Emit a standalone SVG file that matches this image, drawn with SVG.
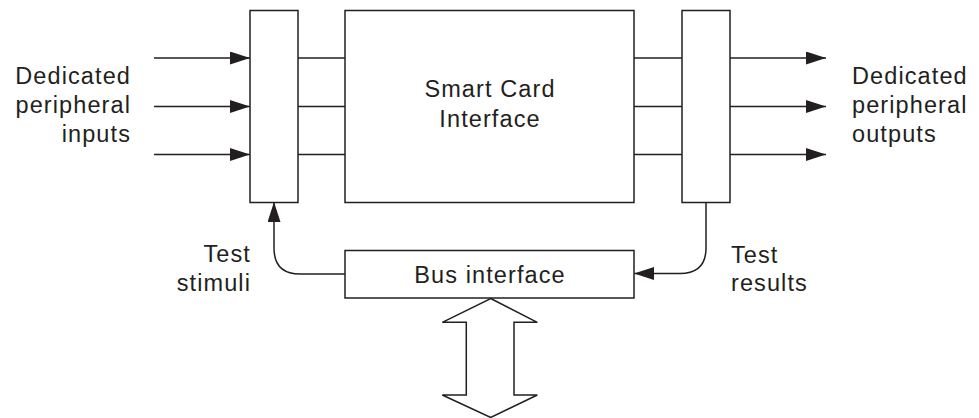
<svg xmlns="http://www.w3.org/2000/svg" width="979" height="418" viewBox="0 0 979 418">
  <style>
    .box { fill: #ffffff; stroke: #231f20; stroke-width: 1.5; }
    .wire { fill: none; stroke: #231f20; stroke-width: 1.5; }
    .lbl { font-family: "Liberation Sans", Arial, sans-serif; font-size: 23.5px; letter-spacing: 1.1px; fill: #231f20; }
    .mid { text-anchor: middle; }
    .end { text-anchor: end; }
  </style>
  <defs>
    <marker id="head" markerUnits="userSpaceOnUse" markerWidth="21" markerHeight="14" refX="20" refY="6.5" orient="auto">
      <path d="M0,0 L20,6.5 L0,13 z" fill="#231f20"/>
    </marker>
  </defs>

  <rect width="979" height="418" fill="#ffffff"/>

  <!-- connectors -->
  <g id="connectors">
    <!-- peripheral inputs -->
    <line class="wire" x1="154" y1="58" x2="250" y2="58" marker-end="url(#head)"/>
    <line class="wire" x1="154" y1="106.5" x2="250" y2="106.5" marker-end="url(#head)"/>
    <line class="wire" x1="154" y1="154.5" x2="250" y2="154.5" marker-end="url(#head)"/>
    <!-- input cells to core -->
    <line class="wire" x1="298" y1="58" x2="345" y2="58"/>
    <line class="wire" x1="298" y1="106.5" x2="345" y2="106.5"/>
    <line class="wire" x1="298" y1="154.5" x2="345" y2="154.5"/>
    <!-- core to output cells -->
    <line class="wire" x1="634" y1="58" x2="682" y2="58"/>
    <line class="wire" x1="634" y1="106.5" x2="682" y2="106.5"/>
    <line class="wire" x1="634" y1="154.5" x2="682" y2="154.5"/>
    <!-- peripheral outputs -->
    <line class="wire" x1="730" y1="58" x2="826" y2="58" marker-end="url(#head)"/>
    <line class="wire" x1="730" y1="106.5" x2="826" y2="106.5" marker-end="url(#head)"/>
    <line class="wire" x1="730" y1="154.5" x2="826" y2="154.5" marker-end="url(#head)"/>
    <!-- test stimuli -->
    <path class="wire" d="M345,274 L300,274 Q274,274 274,248 L274,202" marker-end="url(#head)"/>
    <!-- test results -->
    <path class="wire" d="M706,202 L706,248 Q706,273.5 680,273.5 L634,273.5" marker-end="url(#head)"/>
  </g>

  <!-- input boundary cells -->
  <g id="input-cells">
    <rect class="box" x="250" y="10.5" width="48" height="192"/>
  </g>

  <!-- smart card interface core -->
  <g id="smart-card-interface">
    <rect class="box" x="345" y="10.5" width="289" height="192"/>
    <text class="lbl mid" x="490" y="96.5">Smart Card</text>
    <text class="lbl mid" x="490" y="126.5">Interface</text>
  </g>

  <!-- output boundary cells -->
  <g id="output-cells">
    <rect class="box" x="682" y="10.5" width="48" height="192"/>
  </g>

  <!-- bus interface -->
  <g id="bus-interface">
    <rect class="box" x="345" y="250.5" width="289" height="47.5"/>
    <text class="lbl mid" x="490" y="283">Bus interface</text>
  </g>

  <!-- bidirectional system bus -->
  <g id="system-bus">
    <polygon class="box" points="490.7,298.5 537.3,322.3 514,322.3 514,395 537.3,395 490.7,417.5 442.3,395 466.3,395 466.3,322.3 442.3,322.3"/>
  </g>

  <!-- labels -->
  <g id="inputs-label">
    <text class="lbl end" x="131" y="83.5">Dedicated</text>
    <text class="lbl end" x="131" y="112.5">peripheral</text>
    <text class="lbl end" x="131" y="141.5">inputs</text>
  </g>
  <g id="outputs-label">
    <text class="lbl" x="852" y="83.5">Dedicated</text>
    <text class="lbl" x="852" y="112.5">peripheral</text>
    <text class="lbl" x="852" y="141.5">outputs</text>
  </g>
  <g id="stimuli-label">
    <text class="lbl end" x="251" y="262">Test</text>
    <text class="lbl end" x="251" y="290.5">stimuli</text>
  </g>
  <g id="results-label">
    <text class="lbl" x="731" y="262.5">Test</text>
    <text class="lbl" x="731" y="291">results</text>
  </g>
</svg>
